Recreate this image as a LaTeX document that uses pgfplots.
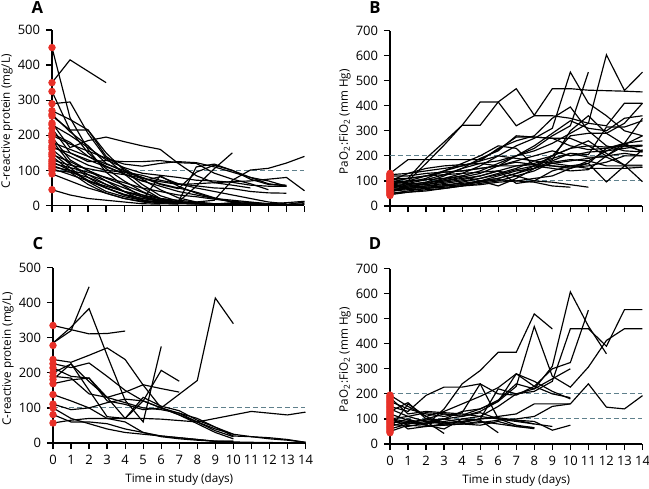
\documentclass[border=0pt]{standalone}
\usepackage{pgfplots}
\pgfplotsset{compat=1.18}
\usepackage{fontspec}
\setmainfont{Open Sans}
\definecolor{dotred}{RGB}{232,48,40}
\definecolor{refline}{RGB}{95,128,140}
\newcommand{\sline}[1]{\addplot[black,line width=0.7pt] coordinates {#1};}
\newcommand{\refl}[1]{\addplot[refline,line width=0.65pt,dash pattern=on 3pt off 1.8pt] coordinates {(0,#1)(14,#1)};}
\newcommand{\reddots}[1]{\addplot[only marks,mark=*,mark size=2pt,color=dotred,mark options={fill=dotred,draw=dotred}] coordinates {#1};}
\pgfplotsset{
 panel/.style={
   anchor=south west,
   scale only axis, width=151.5pt, height=105.3pt,
   axis lines=left, axis line style={-, line width=0.75pt},
   tick align=outside, major tick length=3.6pt,
   tick style={black, line width=0.75pt},
   xmin=0, xmax=14, xtick={0,...,14},
   clip=false,
   tick label style={font=\fontsize{7.8}{9}\selectfont},
   label style={font=\fontsize{7}{8}\selectfont},
   ylabel style={at={(axis description cs:-0.178,0.48)}, anchor=center},
   xlabel style={at={(axis description cs:0.5,0)}, anchor=center, yshift=-22pt},
   /pgf/number format/assume math mode=true,
 }
}
\begin{document}
\begin{tikzpicture}
\useasboundingbox (0,0) rectangle (389.4pt,-292.8pt);
% ---------------- A ----------------
\begin{axis}[panel, at={(31.2pt,-123.3pt)}, ymin=0, ymax=500, ytick={0,100,...,500}, xticklabels={}, ylabel={C-reactive protein (mg/L)}]
\refl{100}
\sline{(0,350)(1,415)(3,350)}
\sline{(0,450)(1,250)(2,160)(3,95)(4,55)(5,25)(6,10)(7,5)}
\sline{(0,290)(1,295)(2,205)(3,135)(4,90)(5,50)(6,20)(7,8)(8,5)}
\sline{(0,325)(1,215)(2,150)(3,105)(4,70)(5,40)(6,18)(7,8)}
\sline{(0,270)(1,245)(2,215)(3,150)(4,100)(5,60)(6,28)(7,12)(8,6)(9,4)}
\sline{(0,255)(1,215)(2,215)(3,140)(4,105)(5,75)(6,45)(7,22)(8,10)(9,5)(10,3)}
\sline{(0,235)(1,165)(2,185)(3,195)(4,182)(5,170)(6,160)(7,120)(8,85)(9,65)(10,58)(11,50)}
\sline{(0,220)(1,150)(2,125)(3,128)(4,125)(5,125)(6,128)(7,122)(8,120)(9,92)(10,75)(11,62)(12,45)}
\sline{(0,205)(1,180)(2,140)(3,118)(4,100)(5,80)(6,62)(7,50)(8,38)(9,22)(10,10)(11,5)}
\sline{(0,195)(1,130)(2,100)(3,78)(4,58)(5,38)(6,20)(7,10)(8,6)}
\sline{(0,180)(1,160)(2,140)(3,112)(4,90)(5,70)(6,55)(7,40)(8,30)(9,20)(10,15)(11,10)(12,5)(13,3)(14,3)}
\sline{(0,170)(1,140)(2,115)(3,100)(4,95)(5,80)(6,60)(7,48)(8,95)(9,115)(10,100)(11,80)(12,70)(13,55)}
\sline{(0,160)(1,118)(2,88)(3,60)(4,40)(5,25)(6,15)(7,8)(8,5)(9,4)(10,3)}
\sline{(0,150)(1,108)(2,68)(3,40)(4,25)(5,15)(6,10)(7,6)}
\sline{(0,140)(1,100)(2,70)(3,50)(4,30)(5,20)(6,12)(7,8)(8,5)(9,4)(10,8)(11,5)(12,3)(13,3)(14,10)}
\sline{(0,130)(1,115)(2,105)(3,95)(4,88)(5,78)(6,68)(7,60)(8,62)(9,65)(10,68)(11,70)(12,75)(13,80)(14,42)}
\sline{(0,120)(1,108)(2,95)(3,80)(4,65)(5,50)(6,40)(7,30)(8,25)(9,18)(10,12)(11,8)(12,5)}
\sline{(0,110)(1,100)(2,88)(3,70)(4,50)(5,30)(6,15)(7,10)(8,110)(9,118)(10,100)(11,75)(12,60)(13,58)}
\sline{(0,100)(1,95)(2,80)(3,60)(4,40)(5,25)(6,15)(7,10)(8,8)(9,5)(10,5)(11,5)(12,5)(13,8)(14,12)}
\sline{(0,90)(1,70)(2,50)(3,35)(4,20)(5,10)(6,5)(7,4)}
\sline{(0,45)(1,30)(2,20)(3,15)(4,10)(5,5)(6,4)}
\sline{(0,200)(1,175)(2,155)(3,135)(4,118)(5,112)(6,120)(7,125)(8,122)(9,110)(10,95)(11,80)(12,62)(13,55)}
\sline{(0,185)(1,120)(2,80)(3,50)(4,30)(5,15)(6,8)(7,5)}
\sline{(0,165)(1,150)(2,130)(3,110)(4,90)(5,70)(6,82)(7,62)(8,50)(9,40)(10,30)(11,20)(12,10)(13,5)}
\sline{(0,145)(1,125)(2,100)(3,70)(4,40)(5,15)(6,85)(7,55)(8,35)(9,20)(10,10)}
\sline{(0,125)(1,100)(2,72)(3,50)(4,32)(5,20)(6,14)(7,10)(8,55)(9,105)(10,150)}
\sline{(0,105)(1,88)(2,70)(3,55)(4,40)(5,30)(6,20)(7,15)(8,10)(9,15)(10,72)(11,101)(12,106)(13,121)(14,140)}
\sline{(0,230)(1,200)(2,165)(3,130)(4,108)(5,92)(6,86)(7,80)(8,72)(9,70)(10,66)(11,58)(12,55)(13,55)}
\sline{(0,260)(1,210)(2,170)(3,120)(4,96)(5,86)(6,72)(7,62)(8,56)(9,50)(10,48)(11,40)(12,36)(13,35)}
\sline{(0,115)(1,95)(2,60)(3,35)(4,20)(5,12)(6,8)(7,5)(8,4)(9,3)(10,3)(11,3)(12,3)(13,3)(14,5)}
\reddots{(0,450)(0,350)(0,325)(0,290)(0,270)(0,260)(0,255)(0,235)(0,230)(0,220)(0,205)(0,200)(0,195)(0,185)(0,180)(0,170)(0,165)(0,160)(0,150)(0,145)(0,140)(0,130)(0,125)(0,120)(0,115)(0,110)(0,105)(0,100)(0,90)(0,45)}
\end{axis}
% ---------------- B ----------------
\begin{axis}[panel, at={(234pt,-123.6pt)}, ymin=0, ymax=700, ytick={0,100,...,700}, xticklabels={}, ylabel={PaO\textsubscript{2}:FiO\textsubscript{2} (mm Hg)}]
\refl{100}
\refl{200}
\sline{(0,130)(1,185)(2,185)(3,185)(4,185)(5,185)(6,225)(7,275)(8,275)(9,270)(10,270)(11,240)(12,235)(13,240)(14,240)}
\sline{(0,95)(1,110)(2,190)(3,255)(4,322)(5,322)(6,415)(7,468)(8,362)(9,468)(10,468)(11,462)(12,460)(13,458)(14,455)}
\sline{(0,85)(1,100)(2,170)(3,243)(4,322)(5,415)(6,415)(7,320)(8,360)(9,360)(10,350)(11,330)(12,320)(13,410)(14,410)}
\sline{(0,60)(1,80)(2,90)(3,110)(4,130)(5,160)(6,200)(7,240)(8,270)(9,310)(10,534)(11,410)(12,360)(13,300)(14,280)}
\sline{(0,70)(1,85)(2,95)(3,120)(4,150)(5,170)(6,180)(7,200)(8,230)(9,280)(10,320)(11,534)}
\sline{(0,55)(1,75)(2,90)(3,105)(4,120)(5,140)(6,170)(7,200)(8,220)(9,250)(10,290)(11,330)(12,603)(13,461)(14,534)}
\sline{(0,90)(1,95)(2,110)(3,140)(4,160)(5,180)(6,230)(7,260)(8,280)(9,350)(10,395)(11,300)(12,240)(13,220)(14,216)}
\sline{(0,75)(1,90)(2,105)(3,125)(4,150)(5,190)(6,220)(7,280)(8,275)(9,270)(10,240)(11,225)(12,230)(13,240)(14,243)}
\sline{(0,100)(1,130)(2,150)(3,160)(4,165)(5,170)(6,160)(7,160)(8,170)(9,190)(10,210)(11,195)(12,195)(13,163)(14,163)}
\sline{(0,110)(1,110)(2,120)(3,125)(4,130)(5,135)(6,140)(7,120)(8,100)(9,95)(10,85)(11,75)}
\sline{(0,50)(1,60)(2,70)(3,80)(4,85)(5,100)(6,120)(7,140)(8,150)(9,200)(10,230)(11,260)(12,210)(13,163)(14,97)}
\sline{(0,60)(1,70)(2,75)(3,80)(4,95)(5,110)(6,130)(7,150)(8,180)(9,200)(10,280)(11,290)(12,290)(13,245)(14,280)}
\sline{(0,80)(1,85)(2,95)(3,100)(4,115)(5,130)(6,160)(7,180)(8,200)(9,220)(10,200)(11,215)(12,220)(13,250)(14,350)}
\sline{(0,95)(1,100)(2,105)(3,110)(4,120)(5,100)(6,80)(7,110)(8,150)(9,170)(10,180)(11,190)(12,200)(13,240)(14,220)}
\sline{(0,120)(1,120)(2,130)(3,135)(4,140)(5,150)(6,160)(7,175)(8,165)(9,160)(10,150)(11,170)(12,96)(13,160)(14,225)}
\sline{(0,105)(1,110)(2,120)(3,140)(4,170)(5,200)(6,240)(7,230)(8,160)(9,150)(10,140)(11,145)(12,200)(13,250)(14,215)}
\sline{(0,70)(1,75)(2,80)(3,85)(4,90)(5,100)(6,110)(7,130)(8,160)(9,200)(10,230)(11,240)(12,200)(13,210)(14,200)}
\sline{(0,60)(1,65)(2,70)(3,75)(4,80)(5,90)(6,100)(7,120)(8,140)(9,175)(10,185)(11,180)(12,160)(13,160)(14,160)}
\sline{(0,85)(1,90)(2,85)(3,100)(4,110)(5,120)(6,140)(7,90)(8,100)(9,140)(10,160)(11,170)(12,230)(13,250)(14,260)}
\sline{(0,50)(1,55)(2,60)(3,70)(4,80)(5,100)(6,110)(7,130)(8,150)(9,180)(10,210)(11,205)(12,315)(13,315)(14,340)}
\sline{(0,65)(1,70)(2,80)(3,90)(4,100)(5,110)(6,125)(7,145)(8,160)(9,185)(10,300)(11,360)(12,290)(13,330)(14,410)}
\sline{(0,90)(1,100)(2,120)(3,135)(4,140)(5,150)(6,160)(7,200)(8,240)(9,290)(10,340)(11,310)(12,300)(13,350)(14,360)}
\sline{(0,75)(1,80)(2,85)(3,95)(4,105)(5,120)(6,140)(7,160)(8,165)(9,160)(10,155)(11,160)(12,175)(13,200)(14,200)}
\sline{(0,45)(1,55)(2,65)(3,70)(4,80)(5,85)(6,95)(7,100)(8,110)(9,120)(10,150)(11,180)(12,220)(13,230)(14,240)}
\sline{(0,65)(1,70)(2,75)(3,80)(4,85)(5,95)(6,105)(7,100)(8,95)(9,80)(10,75)}
\sline{(0,125)(1,130)(2,140)(3,150)(4,160)(5,180)(6,200)(7,190)(8,180)(9,170)(10,160)(11,150)(12,150)(13,150)(14,155)}
\reddots{(0,42)(0,46)(0,50)(0,54)(0,58)(0,62)(0,66)(0,70)(0,74)(0,78)(0,82)(0,86)(0,90)(0,94)(0,98)(0,102)(0,106)(0,110)(0,114)(0,118)(0,122)(0,126)(0,130)}
\end{axis}
% ---------------- C ----------------
\begin{axis}[panel, at={(31.8pt,-265.8pt)}, ymin=0, ymax=500, ytick={0,100,...,500}, ylabel={C-reactive protein (mg/L)}, xlabel={Time in study (days)}]
\refl{100}
\sline{(0,335)(2,311)(3,312)(4,319)}
\sline{(0,285)(1,330)(2,383)(3,250)(4,122)(5,60)(6,275)}
\sline{(0,285)(1,320)(2,445)}
\sline{(0,238)(1,230)(2,250)(3,271)(4,238)(5,165)(6,100)(7,85)(8,70)(9,45)(10,20)(11,18)(12,15)(13,10)(14,2)}
\sline{(0,226)(1,215)(2,228)(3,190)(4,150)(5,120)(6,100)(8,178)(9,413)(10,340)}
\sline{(0,214)(1,190)(2,185)(3,120)(4,110)(5,95)(6,100)(7,80)(8,55)(9,30)(10,12)}
\sline{(0,200)(1,225)(2,175)(3,130)(4,70)(5,120)(6,207)(7,176)}
\sline{(0,190)(1,185)(2,140)(3,130)(4,145)(5,166)(6,155)(7,145)}
\sline{(0,181)(1,226)(2,150)(3,75)(4,70)(5,130)(6,105)(7,92)(8,65)(9,45)(10,25)}
\sline{(0,169)(1,180)(2,185)(3,130)(4,115)(5,100)(6,95)(7,85)(8,60)(9,35)(10,18)}
\sline{(0,138)(1,120)(2,100)(3,70)(4,60)(5,30)(6,20)(7,15)(8,10)(9,5)(10,5)}
\sline{(0,111)(1,95)(2,100)(3,115)(4,125)(5,120)(6,100)(7,80)(8,60)(9,40)(10,25)(11,18)(12,12)(13,8)(14,2)}
\sline{(0,100)(1,70)(2,55)(3,40)(4,30)(5,25)(6,20)(7,15)(8,10)(9,5)(10,5)}
\sline{(0,81)(1,60)(2,60)(3,55)(4,40)(5,30)(6,18)(7,12)(8,8)(9,5)(10,3)(11,2)(14,0)}
\sline{(0,57)(1,65)(2,70)(3,70)(4,70)(5,70)(6,68)(7,64)(8,60)(9,70)(10,80)(11,90)(12,85)(13,80)(14,88)}
\reddots{(0,335)(0,278)(0,238)(0,226)(0,214)(0,200)(0,190)(0,181)(0,169)(0,138)(0,111)(0,100)(0,81)(0,57)}
\end{axis}
% ---------------- D ----------------
\begin{axis}[panel, at={(234pt,-266.4pt)}, ymin=0, ymax=700, ytick={0,100,...,700}, ylabel={PaO\textsubscript{2}:FiO\textsubscript{2} (mm Hg)}, xlabel={Time in study (days)}]
\refl{100}
\refl{200}
\sline{(0,150)(1,130)(2,194)(3,227)(4,227)(5,240)(6,101)(7,75)(8,65)}
\sline{(0,100)(1,90)(2,75)(3,140)(4,240)(5,293)(6,366)(7,366)(8,519)(9,459)}
\sline{(0,80)(1,70)(2,85)(3,100)(4,130)(5,140)(6,170)(7,230)(8,469)(9,270)(10,227)(11,307)(12,413)(13,460)(14,460)}
\sline{(0,120)(1,95)(2,80)(3,90)(4,100)(5,110)(6,150)(7,200)(8,220)(9,310)(10,607)(11,470)(12,360)}
\sline{(0,90)(1,80)(2,100)(3,120)(4,110)(5,130)(6,170)(7,280)(8,230)(9,300)(10,325)(11,534)}
\sline{(0,60)(1,80)(2,90)(3,80)(4,90)(5,100)(6,220)(7,200)(8,210)(9,250)(10,460)(11,460)(12,390)(13,536)(14,536)}
\sline{(0,130)(1,165)(2,100)(3,85)(4,90)(5,100)(6,110)(7,120)(8,160)(9,160)(10,160)(11,240)(12,147)(13,140)(14,193)}
\sline{(0,170)(1,140)(2,120)(3,110)(4,125)(5,240)(6,200)(7,195)(8,230)(9,200)(10,185)}
\sline{(0,195)(1,150)(2,110)(3,130)(4,160)(5,190)(6,225)(7,280)(8,250)(9,210)(10,180)}
\sline{(0,60)(1,160)(2,110)(3,75)(4,80)(5,85)(6,95)(7,100)(8,110)(9,150)(10,160)}
\sline{(0,110)(1,60)(2,70)(3,75)(4,80)(5,75)(6,90)(7,70)(8,61)}
\sline{(0,80)(1,100)(2,75)(3,60)(4,100)(5,95)(6,45)}
\sline{(0,140)(1,110)(2,90)(3,42)}
\sline{(0,95)(1,85)(2,80)(3,100)(4,110)(5,125)(6,100)(7,95)(8,90)(9,55)(10,75)}
\sline{(0,100)(1,110)(2,125)(3,120)(4,115)(5,140)(6,175)(7,240)(8,220)(9,260)(10,300)}
\sline{(0,50)(1,75)(2,70)(3,80)(4,80)(5,90)(6,80)(7,70)(8,65)}
\sline{(0,185)(1,120)(2,130)(3,125)(4,120)(5,110)(6,100)(7,90)(8,80)}
\sline{(0,70)(1,90)(2,95)(3,100)(4,85)(5,100)(6,105)(7,95)(8,80)(9,70)}
\reddots{(0,45)(0,50)(0,55)(0,60)(0,65)(0,70)(0,75)(0,80)(0,85)(0,90)(0,95)(0,100)(0,105)(0,110)(0,115)(0,120)(0,125)(0,130)(0,135)(0,140)(0,145)(0,150)(0,155)(0,160)(0,165)(0,170)(0,175)(0,180)(0,185)(0,190)(0,195)}
\end{axis}
\node[font=\bfseries\fontsize{10}{11}\selectfont] at (22.5pt,-4.5pt) {A};
\node[font=\bfseries\fontsize{10}{11}\selectfont] at (225pt,-4.5pt) {B};
\node[font=\bfseries\fontsize{10}{11}\selectfont] at (22.8pt,-146.4pt) {C};
\node[font=\bfseries\fontsize{10}{11}\selectfont] at (225pt,-146.4pt) {D};
\end{tikzpicture}
\end{document}
